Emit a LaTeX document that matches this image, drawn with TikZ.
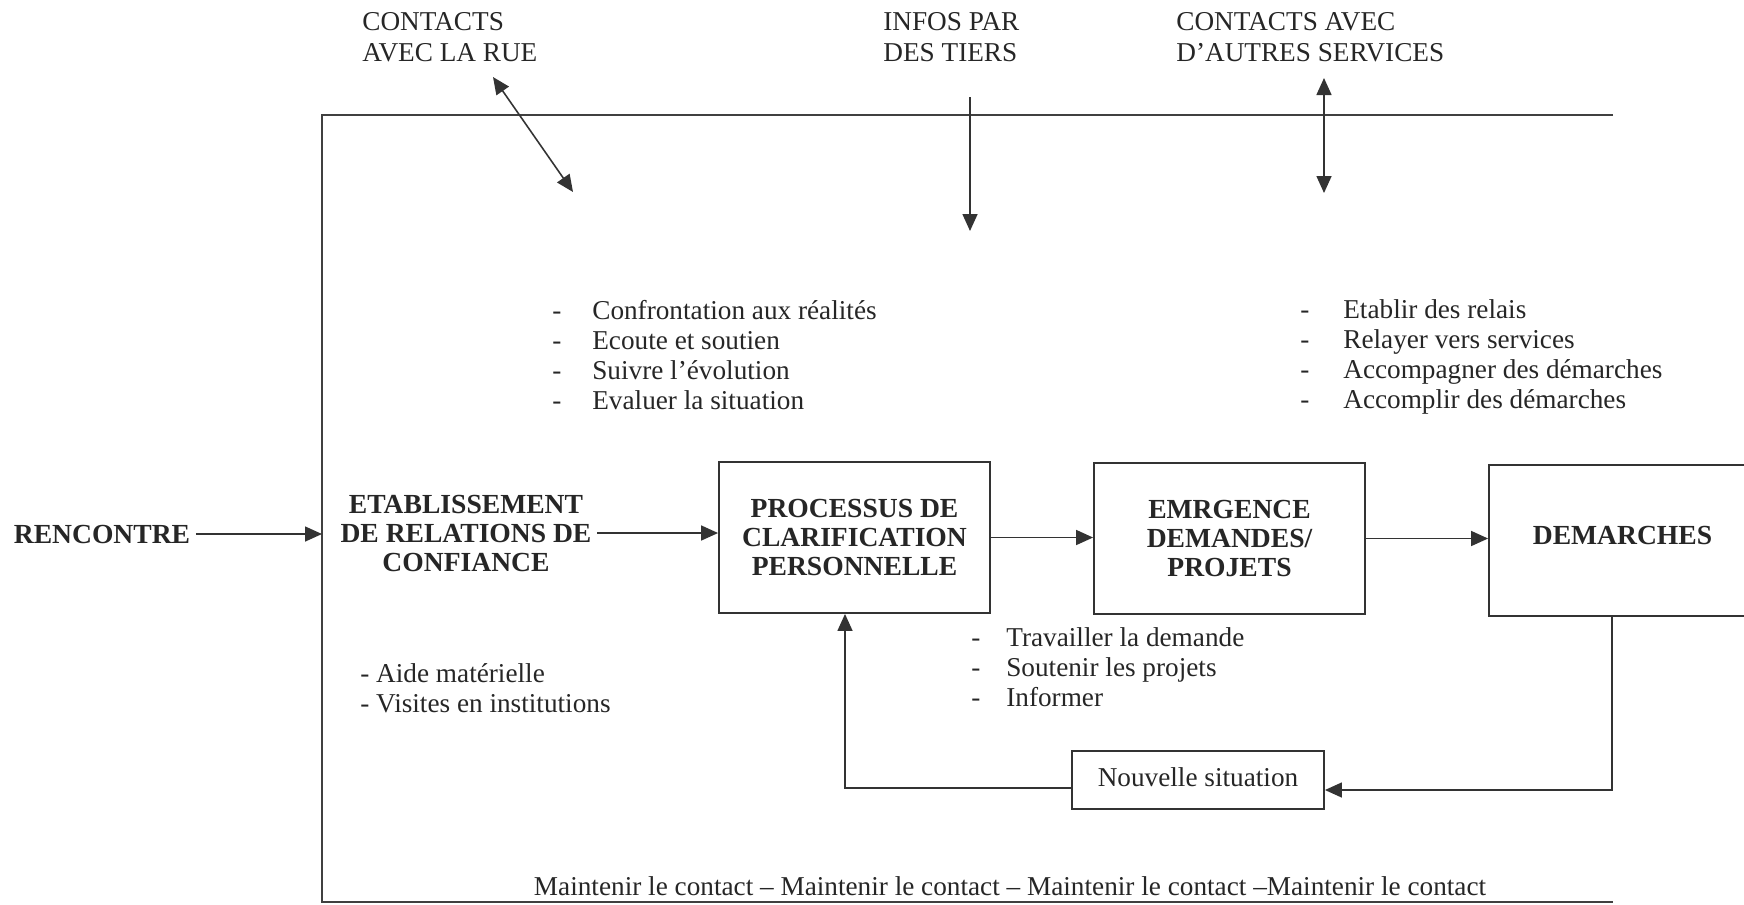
\documentclass[tikz,border=0pt]{standalone}
\usepackage{fontspec}
\setmainfont{Liberation Serif}
\usetikzlibrary{arrows.meta,positioning}

\newcommand\tiret[1][0.8cm]{\makebox[#1][l]{-}}

\tikzset{
  txt/.style={inner sep=0pt, text=black!85, font=\fontsize{15.5}{17}\selectfont},
  titre/.style={txt, align=left, anchor=west, font=\fontsize{15.5}{17.6}\selectfont},
  etape/.style={txt, align=center, inner sep=3pt, font=\fontsize{15.7}{16.5}\selectfont\bfseries},
  boite/.style={etape, draw=black!80, line width=1.1pt, minimum width=5.42cm, minimum height=3.02cm},
  liste/.style={txt, align=left, anchor=west},
  fleche/.style={draw=black!80, line width=0.9pt, -{Triangle[length=0.34cm,width=0.3cm]}},
  bidir/.style={fleche, {Triangle[length=0.34cm,width=0.3cm]}-{Triangle[length=0.34cm,width=0.3cm]}},
  cadre/.style={draw=black!75, line width=0.85pt}
}

\begin{document}
\begin{tikzpicture}[x=0.02cm, y=-0.02cm]
    \useasboundingbox (0,0) rectangle (1744,904);

    % cadre
    \draw[cadre] (1613,115) -- (322,115) -- (322,902) -- (1613,902);

    % entrees du haut
    \node[titre] (rue) at (362,37) {CONTACTS\\AVEC LA RUE};
    \node[titre] (tiers) at (883,37) {INFOS PAR\\DES TIERS};
    \node[titre] (serv) at (1176,37) {CONTACTS AVEC\\D’AUTRES SERVICES};

    \coordinate (rueA) at (493,77);   \coordinate (rueB) at (573,192);
    \coordinate (tiersA) at (970,97); \coordinate (tiersB) at (970,231);
    \coordinate (servA) at (1324,78); \coordinate (servB) at (1324,193);
    \draw[bidir] (rueA) -- (rueB);
    \draw[fleche] (tiersA) -- (tiersB);
    \draw[bidir] (servA) -- (servB);

    % etapes
    \node[etape] (renc) at (102,534) {RENCONTRE};
    \coordinate (entree) at (322,534);
    \node[etape] (etab) at (466,533) {ETABLISSEMENT\\DE RELATIONS DE\\CONFIANCE};
    \node[boite] (proc) at (854.5,537.5) {PROCESSUS DE\\CLARIFICATION\\PERSONNELLE};
    \node[boite] (emrg) at (1229.5,538.5) {EMRGENCE\\DEMANDES/\\PROJETS};
    \node[boite, minimum width=5.34cm, text height=0.5cm, text depth=0.34cm] (dem) at (1622.5,540.5) {DEMARCHES};
    \node[txt, draw=black!80, line width=1.1pt, minimum width=5.04cm, minimum height=1.16cm, text depth=0.13cm] (nouv) at (1198,780) {Nouvelle situation};

    \draw[fleche] (renc) -- (entree);
    \draw[fleche] (etab.east) -- (etab.east -| proc.west);
    \draw[fleche] (proc.east) -- (proc.east -| emrg.west);
    \draw[fleche] (emrg.east) -- (emrg.east -| dem.west);

    % retour
    \coordinate (ret) at (1612,790);
    \coordinate (ret2) at (845,788);
    \draw[fleche] (ret |- dem.south) -- (ret) -- (ret -| nouv.east);
    \draw[fleche] (ret2 -| nouv.west) -- (ret2) -- (ret2 |- proc.south);

    % listes
    \node[liste] (l1) at (552,355) {\tiret Confrontation aux réalités\\\tiret Ecoute et soutien\\\tiret Suivre l’évolution\\\tiret Evaluer la situation};
    \node[liste] (l2) at (1300,357) {\tiret[0.86cm]Etablir des relais\\\tiret[0.86cm]Relayer vers services\\\tiret[0.86cm]Accompagner des démarches\\\tiret[0.86cm]Accomplir des démarches};
    \node[liste] (l3) at (971,667) {\tiret[0.7cm]Travailler la demande\\\tiret[0.7cm]Soutenir les projets\\\tiret[0.7cm]Informer};
    \node[liste] (l4) at (360,688) {- Aide matérielle\\- Visites en institutions};

    \node[txt] (maintien) at (1010,886) {Maintenir le contact – Maintenir le contact – Maintenir le contact –Maintenir le contact};

\end{tikzpicture}
\end{document}
